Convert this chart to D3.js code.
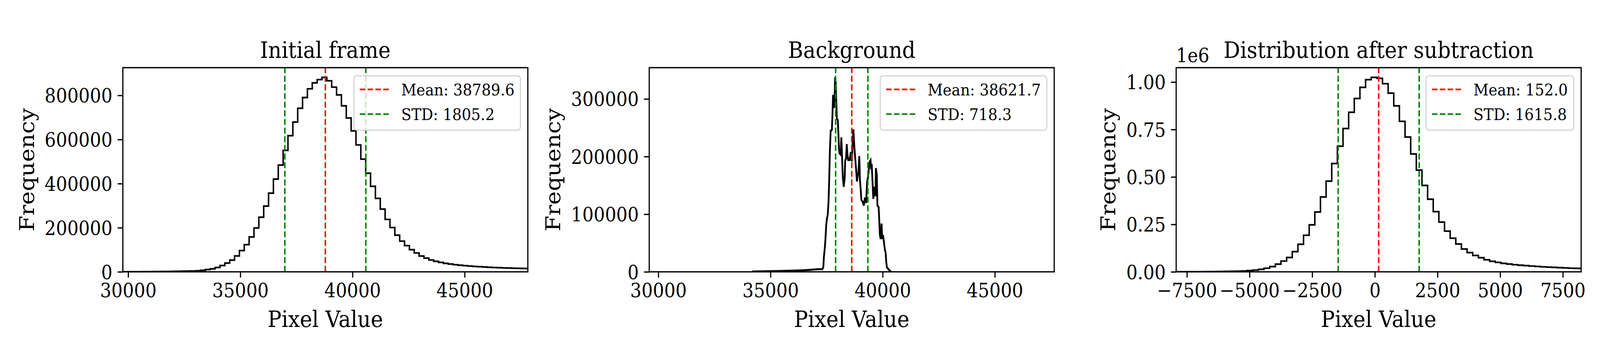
<!DOCTYPE html>
<html>
<head>
<meta charset="utf-8">
<script src="https://cdn.jsdelivr.net/npm/d3@7"></script>
<style>
  html, body { margin: 0; padding: 0; background: #ffffff; overflow: hidden; }
  #chart { width: 100vw; height: 100vh; }
  svg { display: block; }
</style>
</head>
<body>
<div id="chart"></div>
<script>
// ---- data ----
const panelTitles = ['Initial frame', 'Background', 'Distribution after subtraction'];
const panelMeans = [38789.6, 38621.7, 152.0];
const panelStds = [1805.2, 718.3, 1615.8];
const panelXDomains = [[29763.6, 47815.6], [29595.7, 47647.7], [-7927.8, 8231.0]];

const rawXTicks = [30000, 35000, 40000, 45000];
const diffXTicks = [-7500, -5000, -2500, 0, 2500, 5000, 7500];
const initialYTicks = [0, 200000, 400000, 600000, 800000];
const backgroundYTicks = [0, 100000, 200000, 300000];
const diffYTicks = [0, 250000, 500000, 750000, 1000000];

// initial frame histogram (step), equal bins
const initialFirstEdge = 29547;
const initialBinWidth = 216.5;
const initialCounts = [
  150, 200, 300, 400, 500, 650, 800, 1000, 1200, 1500, 1800, 2100, 2500, 2900, 3300, 3800,
  4900, 6800, 10300, 13400, 19600, 28700, 39700, 53100, 72100, 96400, 123300, 158000, 198800,
  247500, 298200, 356800, 420500, 484000, 550700, 617300, 679000, 741500, 790200, 830000, 856800, 871700,
  881700, 866300, 837600, 802200, 752500, 697800, 639100, 575500, 510900, 447300, 387700, 333000,
  284300, 237600, 200800, 166000, 139200, 118800, 100400, 85500, 71600, 62100, 53700, 47700, 42700,
  38400, 35300, 32300, 29800, 28000, 26200, 24400, 23200, 21900, 20700, 19500, 18900, 17700, 17100,
  16400, 15800, 15200, 14800
];

// background histogram, fine bins (traced outline)
const backgroundValues = [
  34175, 34800, 35500, 36000, 36500, 36800, 37103, 37314, 37356, 37377, 37430, 37461, 37482, 37514,
  37551, 37588, 37614, 37646, 37683, 37736, 37762, 37788, 37831, 37852, 37878, 37904, 37931, 37957,
  37999, 38026, 38052, 38078, 38131, 38158, 38189, 38221, 38263, 38305, 38332, 38368, 38400, 38432,
  38463, 38527, 38579, 38622, 38659, 38695, 38727, 38764, 38817, 38854, 38896, 38922, 38959, 38985,
  39017, 39054, 39107, 39160, 39212, 39265, 39307, 39344, 39381, 39423, 39460, 39487, 39513, 39545,
  39582, 39624, 39677, 39698, 39740, 39766, 39819, 39845, 39872, 39908, 39951, 39977, 40014, 40056,
  40098, 40130, 40160, 40188, 40267, 40346, 40400
];
const backgroundCounts = [
  500, 1000, 1500, 2000, 2800, 3500, 4500, 4700, 8100, 24300, 45300, 63900, 80100, 91700,
  98700, 121900, 154400, 207800, 245000, 246200, 270500, 305400, 305400, 284400, 337400, 330900, 298400, 265900,
  263600, 240300, 214800, 205600, 203200, 233400, 200900, 166000, 147400, 161400, 193900, 196200, 221700, 203200,
  193900, 193900, 207800, 191500, 219500, 247300, 224100, 203200, 177600, 156800, 168400, 173000, 200900, 161400,
  145200, 124300, 121900, 114900, 128900, 119600, 156800, 163700, 177600, 191500, 193900, 177600, 187000, 159100,
  126600, 147400, 131200, 180000, 168400, 114900, 112700, 94100, 66200, 56900, 83700, 56900, 63900, 52300,
  38300, 34000, 18000, 7700, 4200, 800, 0
];

// difference histogram (step), equal bins
const diffFirstEdge = -8021;
const diffBinWidth = 225;
const diffCounts = [
  150, 200, 300, 450, 600, 800, 1100, 1400, 1900, 2400, 3000, 3500,
  4300, 6400, 9200, 13000, 19000, 27600, 40400, 56700, 75500, 106400, 145100, 192800, 247500,
  315100, 394600, 478100, 570600, 662000, 755400, 840900, 913500, 972100, 1012900,
  1024800, 1019800, 991500, 941900, 874700, 793200, 710300, 621100, 536200, 455300, 382500, 317300,
  262000, 214600, 177000, 146600, 120400, 101300, 86400, 74400, 63700, 55300, 49600, 44600, 41100,
  37600, 34700, 32600, 30400, 28300, 26200, 24800, 23400, 22000, 20600, 19100, 18400, 17700
];

// ---- layout (matplotlib 15x3 in @ 300 dpi) ----
const figW = 4500, figH = 900;
const pt = 300 / 72;
const axLefts = [345.5, 1826, 3308];
const axTop = 173, axW = 1139, axH = 522;
const tickFont = 12 * pt, labelFont = 14 * pt, legendFont = 10 * pt;
const tickLen = 3.5 * pt, tickPad = 3.5 * pt, spineW = 0.8 * pt;
const lineW = 1.0 * pt;
const dashes = `${3.7 * lineW},${1.6 * lineW}`;

// the figure is stretched onto the full viewport so the photo lines up with 4500x900
const svg = d3.select('#chart').append('svg')
  .attr('viewBox', `0 0 ${figW} ${figH}`)
  .attr('preserveAspectRatio', 'none')
  .style('width', '100%')
  .style('height', '100%')
  .attr('font-family', "'DejaVu Serif', serif");

svg.append('rect').attr('width', figW).attr('height', figH).attr('fill', '#ffffff');

function stepPoints(firstEdge, width, counts) {
  const pts = [[firstEdge, 0]];
  counts.forEach((c, i) => {
    pts.push([firstEdge + i * width, c]);
    pts.push([firstEdge + (i + 1) * width, c]);
  });
  pts.push([firstEdge + counts.length * width, 0]);
  return pts;
}

const panels = [
  { pts: stepPoints(initialFirstEdge, initialBinWidth, initialCounts), xTicks: rawXTicks, yTicks: initialYTicks, yFmt: d3.format('d'), offset: null, stroke: lineW },
  { pts: backgroundValues.map((v, i) => [v, backgroundCounts[i]]), xTicks: rawXTicks, yTicks: backgroundYTicks, yFmt: d3.format('d'), offset: null, stroke: 1.2 * pt },
  { pts: stepPoints(diffFirstEdge, diffBinWidth, diffCounts), xTicks: diffXTicks, yTicks: diffYTicks, yFmt: d => (d / 1e6).toFixed(2), offset: '1e6', stroke: lineW }
];

panels.forEach((p, i) => {
  const g = svg.append('g').attr('transform', `translate(${axLefts[i]},${axTop})`);

  const x = d3.scaleLinear().domain(panelXDomains[i]).range([0, axW]);
  const yMax = d3.max(p.pts, d => d[1]) * 1.05;
  const y = d3.scaleLinear().domain([0, yMax]).range([axH, 0]);

  const clipId = `clip-${i}`;
  g.append('clipPath').attr('id', clipId)
    .append('rect').attr('width', axW).attr('height', axH);

  // histogram outline
  g.append('path')
    .datum(p.pts)
    .attr('clip-path', `url(#${clipId})`)
    .attr('fill', 'none')
    .attr('stroke', '#000000')
    .attr('stroke-width', p.stroke)
    .attr('stroke-linejoin', 'miter')
    .attr('d', d3.line().x(d => x(d[0])).y(d => y(d[1])));

  // mean and +/- std markers
  const mean = panelMeans[i], std = panelStds[i];
  const vlines = [
    { v: mean, color: '#ff0000' },
    { v: mean - std, color: '#008000' },
    { v: mean + std, color: '#008000' }
  ];
  g.selectAll('.vline')
    .data(vlines)
    .join('line')
    .attr('class', 'vline')
    .attr('x1', d => x(d.v)).attr('x2', d => x(d.v))
    .attr('y1', axH).attr('y2', 0)
    .attr('stroke', d => d.color)
    .attr('stroke-width', lineW)
    .attr('stroke-dasharray', dashes);

  // axes
  const xAxis = g.append('g')
    .attr('transform', `translate(0,${axH})`)
    .call(d3.axisBottom(x).tickValues(p.xTicks).tickFormat(d3.format('d'))
      .tickSize(tickLen).tickPadding(tickPad));
  const yAxis = g.append('g')
    .call(d3.axisLeft(y).tickValues(p.yTicks).tickFormat(p.yFmt)
      .tickSize(tickLen).tickPadding(tickPad));

  [xAxis, yAxis].forEach(ax => {
    ax.select('.domain').remove();
    ax.selectAll('line').attr('stroke', '#000000').attr('stroke-width', spineW);
    ax.selectAll('text')
      .attr('fill', '#000000')
      .attr('font-size', tickFont)
      .attr('font-family', "'DejaVu Serif', serif");
  });
  yAxis.selectAll('text').attr('dy', '0.36em');

  // spines
  g.append('rect')
    .attr('width', axW).attr('height', axH)
    .attr('fill', 'none')
    .attr('stroke', '#000000')
    .attr('stroke-width', spineW);

  // title and labels
  g.append('text')
    .attr('x', axW / 2).attr('y', -6 * pt)
    .attr('text-anchor', 'middle')
    .attr('font-size', labelFont)
    .text(panelTitles[i]);

  g.append('text')
    .attr('x', axW / 2).attr('y', 836 - axTop)
    .attr('text-anchor', 'middle')
    .attr('font-size', labelFont)
    .text('Pixel Value');

  let maxTickW = 0;
  yAxis.selectAll('text').each(function () {
    maxTickW = Math.max(maxTickW, this.getComputedTextLength());
  });
  const ylabX = -(tickLen + tickPad + maxTickW + 4 * pt + 0.236 * labelFont);
  g.append('text')
    .attr('transform', `translate(${ylabX},${axH / 2}) rotate(-90)`)
    .attr('text-anchor', 'middle')
    .attr('font-size', labelFont)
    .text('Frequency');

  if (p.offset) {
    g.append('text')
      .attr('x', 0).attr('y', -14)
      .attr('font-size', tickFont)
      .text(p.offset);
  }

  // legend (upper right)
  const pad = 0.5 * legendFont;
  const borderPad = 0.4 * legendFont;
  const handleLen = 2.0 * legendFont;
  const textPad = 0.8 * legendFont;
  const boxH = 139;
  const items = [
    { label: `Mean: ${mean.toFixed(1)}`, color: '#ff0000', dy: 34.8 },
    { label: `STD: ${std.toFixed(1)}`, color: '#008000', dy: 97.9 }
  ];
  const lg = g.append('g');
  const frame = lg.append('rect');
  const labels = lg.selectAll('text')
    .data(items)
    .join('text')
    .attr('font-size', legendFont)
    .text(d => d.label);
  let textW = 0;
  labels.each(function () { textW = Math.max(textW, this.getComputedTextLength()); });
  const boxW = borderPad * 2 + handleLen + textPad + textW;
  const boxX = axW - pad - boxW, boxY = pad;

  frame
    .attr('x', boxX).attr('y', boxY)
    .attr('width', boxW).attr('height', boxH)
    .attr('rx', 0.2 * legendFont)
    .attr('fill', '#ffffff').attr('fill-opacity', 0.8)
    .attr('stroke', '#cccccc').attr('stroke-opacity', 0.8)
    .attr('stroke-width', spineW);

  labels
    .attr('x', boxX + borderPad + handleLen + textPad)
    .attr('y', d => boxY + d.dy + 15.4);

  lg.selectAll('.lg-line')
    .data(items)
    .join('line')
    .attr('class', 'lg-line')
    .attr('x1', boxX + borderPad).attr('x2', boxX + borderPad + handleLen)
    .attr('y1', d => boxY + d.dy).attr('y2', d => boxY + d.dy)
    .attr('stroke', d => d.color)
    .attr('stroke-width', lineW)
    .attr('stroke-dasharray', dashes);
});
</script>
</body>
</html>
